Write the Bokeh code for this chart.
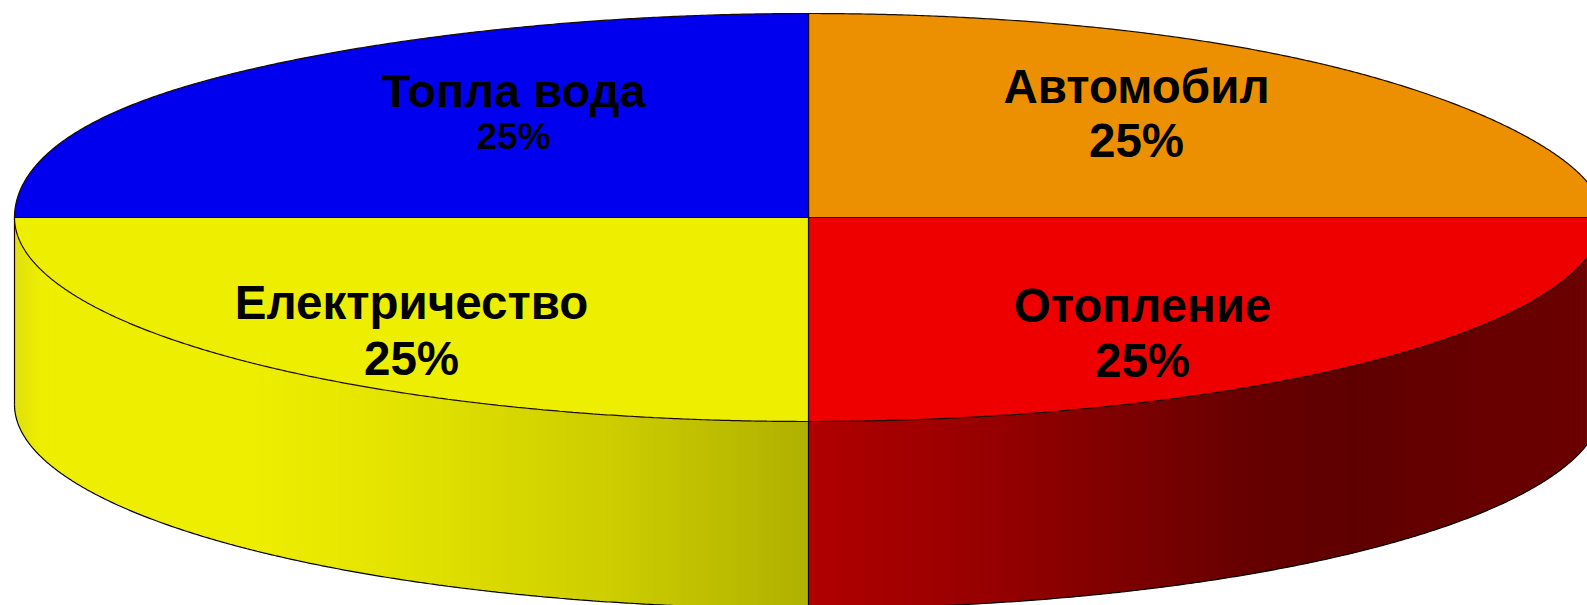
import numpy as np
from bokeh.plotting import figure
from bokeh.models import Range1d, ColumnDataSource
from bokeh.core.properties import value
from bokeh.embed import file_html
from bokeh.resources import INLINE

# ---------------- data ----------------
categories = ["Автомобил", "Отопление", "Електричество", "Топла вода"]
values = [25, 25, 25, 25]
pct_labels = ["25%", "25%", "25%", "25%"]
colors = [(236, 143, 0), (238, 0, 0), (238, 238, 0), (0, 0, 238)]

# ---------------- layout (page pixels) ----------------
W, H, OFF = 1587, 605, 0
CX, CY, A, B, DEPTH = 808, 217, 794, 204, 187
START = 90.0  # degrees, slices run clockwise from 12 o'clock
WARP = 0.12   # slight perspective skew of the back rim
# label anchors (baseline) per slice: (x, y_name, y_pct, size_name, size_pct)
label_layout = [
    (1136, 86, 140, 47.5, 47.5),
    (1142, 305, 360, 47.5, 47.5),
    (411, 302, 358, 47.5, 47.5),
    (513, 90, 136, 47, 37),
]
# side-wall lighting (by x)
shade_x = [14, 40, 250, 408, 612, 808, 994, 1147, 1249, 1350, 1500, 1602]
shade_v = [0.93, 1.0, 1.0, 0.95, 0.86, 0.74, 0.63, 0.51, 0.43, 0.40, 0.44, 0.45]


def hexc(rgb, k=1.0):
    r, g, b = (int(max(0, min(255, round(c * k)))) for c in rgb)
    return "#%02x%02x%02x" % (r, g, b)


def ex(t):
    return CX + A * np.cos(np.radians(t))


def ey(t):
    r = np.radians(t)
    s = np.sin(r)
    f = np.where(s > 0, 1.0 + WARP * (-np.cos(r)) ** 5, 1.0)
    return CY - B * s * f


p = figure(width=W, height=H, x_range=Range1d(OFF, OFF + W), y_range=Range1d(OFF + H, OFF),
           output_backend="svg", toolbar_location=None, min_border=0,
           x_axis_type=None, y_axis_type=None)
p.grid.visible = False
p.outline_line_color = None
p.background_fill_color = "white"
p.border_fill_color = "white"

total = float(sum(values))
cum = np.concatenate([[0.0], np.cumsum(values)])
t0s = START - cum[:-1] / total * 360.0
t1s = START - cum[1:] / total * 360.0

# ---------------- side walls (front half: angles -180..0) ----------------
sx, sy, sc = [], [], []
bounds = []
for i in range(len(values)):
    t0, t1 = t0s[i], t1s[i]
    for shift in (-360.0, 0.0, 360.0):
        lo, hi = max(t1 + shift, -180.0), min(t0 + shift, 0.0)
        if hi - lo > 1e-9:
            n = int(np.ceil((hi - lo) / 0.2))
            ts = np.linspace(lo, hi, n + 1)
            for k in range(n):
                ta, tb = ts[k], ts[min(k + 2, n)]
                xa, xb = ex(ta), ex(tb)
                ya, yb = ey(ta), ey(tb)
                sx.append([xa, xb, xb, xa])
                sy.append([ya, yb, yb + DEPTH, ya + DEPTH])
                kx = np.interp(0.5 * (ex(ts[k]) + ex(ts[k + 1])), shade_x, shade_v)
                sc.append(hexc(colors[i], kx))
            bounds.extend([lo, hi])

p.patches(sx, sy, fill_color=sc, line_color=None)

# side outlines
tb_ = np.linspace(-180, 0, 721)
p.line(ex(tb_), ey(tb_) + DEPTH, line_color="black", line_width=1.2)
for t in sorted(set(np.round(bounds, 6))):
    p.line([ex(t), ex(t)], [ey(t), ey(t) + DEPTH], line_color="#1a0000", line_width=1.2)

# ---------------- top face ----------------
tx, ty, tc = [], [], []
for i in range(len(values)):
    ts = np.linspace(t0s[i], t1s[i], 361)
    tx.append(np.concatenate([[CX], ex(ts)]).tolist())
    ty.append(np.concatenate([[CY], ey(ts)]).tolist())
    tc.append(hexc(colors[i]))
p.patches(tx, ty, fill_color=tc, line_color="#1a0a00", line_width=1.2)

# ---------------- labels ----------------
lx, ly, lt, ls = [], [], [], []
for i in range(len(values)):
    x, yn, yp, sn, sp = label_layout[i]
    lx += [x, x]
    ly += [yn, yp]
    lt += [categories[i], pct_labels[i]]
    ls += ["%gpx" % sn, "%gpx" % sp]
src = ColumnDataSource(dict(x=lx, y=ly, text=lt, size=ls))
p.text("x", "y", text="text", source=src, text_font=value("Liberation Sans"),
       text_font_style="bold", text_font_size="size", text_color="black",
       text_align="center", text_baseline="alphabetic")

open("out.html", "w").write(file_html(p, INLINE))
